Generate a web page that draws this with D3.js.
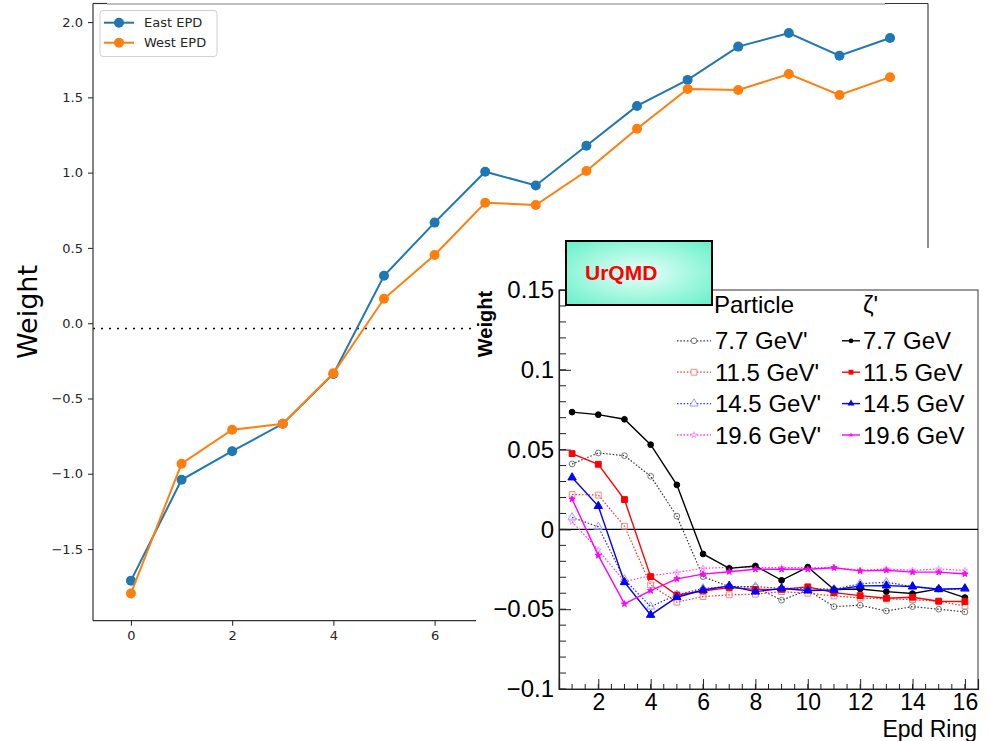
<!DOCTYPE html>
<html><head><meta charset="utf-8">
<script src="https://cdn.jsdelivr.net/npm/d3@7"></script>
<style>body{margin:0;background:#fff}svg{display:block}</style>
</head><body>
<svg id="c" width="990" height="741"></svg>
<script>
// ---------- main chart data ----------
const ringIndex = [0,1,2,3,4,5,6,7,8,9,10,11,12,13,14,15];
const eastEPD = [-1.71,-1.04,-0.85,-0.668,-0.337,0.315,0.668,1.006,0.915,1.178,1.443,1.616,1.837,1.927,1.777,1.894];
const westEPD = [-1.795,-0.933,-0.708,-0.668,-0.333,0.162,0.453,0.800,0.785,1.011,1.291,1.556,1.549,1.655,1.516,1.634];
const mainSeriesNames = ["East EPD","West EPD"];
const mainYTicks = [-1.5,-1.0,-0.5,0.0,0.5,1.0,1.5,2.0];
const mainXTicks = [0,2,4,6,8,10,12,14];
const refLevel = -0.035;

// ---------- inset data ----------
const epdRing = [1,2,3,4,5,6,7,8,9,10,11,12,13,14,15,16];
const part77  = [0.041,0.0479,0.0462,0.0333,0.0083,-0.0296,-0.0359,-0.036,-0.0444,-0.038,-0.0484,-0.0475,-0.0511,-0.0484,-0.050,-0.0517];
const zeta77  = [0.0735,0.0719,0.069,0.0531,0.0279,-0.0154,-0.0244,-0.0229,-0.0319,-0.0236,-0.0377,-0.0373,-0.039,-0.0402,-0.0373,-0.0427];
const part115 = [0.0219,0.0215,0.002,-0.0348,-0.0456,-0.0421,-0.041,-0.0406,-0.039,-0.040,-0.0417,-0.043,-0.0435,-0.044,-0.045,-0.048];
const zeta115 = [0.0475,0.0408,0.0187,-0.0296,-0.0411,-0.0386,-0.0365,-0.0376,-0.0376,-0.036,-0.0396,-0.0415,-0.0431,-0.0425,-0.045,-0.0452];
const part145 = [0.0075,0.0016,-0.0313,-0.0484,-0.041,-0.037,-0.0358,-0.0358,-0.037,-0.037,-0.0375,-0.034,-0.0331,-0.0358,-0.0375,-0.0373];
const zeta145 = [0.0325,0.0146,-0.0331,-0.0536,-0.0425,-0.038,-0.0354,-0.039,-0.037,-0.0383,-0.038,-0.0354,-0.0352,-0.0358,-0.0375,-0.037];
const part196 = [0.0048,-0.0129,-0.0327,-0.029,-0.0269,-0.0244,-0.0238,-0.0238,-0.024,-0.024,-0.024,-0.0256,-0.0248,-0.0256,-0.0248,-0.0258];
const zeta196 = [0.019,-0.0163,-0.0467,-0.0384,-0.031,-0.028,-0.0265,-0.025,-0.025,-0.025,-0.024,-0.026,-0.0256,-0.0268,-0.0268,-0.0279];
const particleLabels = ["7.7 GeV'","11.5 GeV'","14.5 GeV'","19.6 GeV'"];
const zetaLabels = ["7.7 GeV","11.5 GeV","14.5 GeV","19.6 GeV"];
const insetYTicks = [-0.1,-0.05,0,0.05,0.1,0.15];
const insetYTickLabels = ["\u22120.1","\u22120.05","0","0.05","0.1","0.15"];
const insetXTicks = [2,4,6,8,10,12,14,16];
const insetXTickLabels = ["2","4","6","8","10","12","14","16"];

const svg = d3.select("#c");

// ================= MAIN CHART =================
const mx = d3.scaleLinear().domain([-0.75,15.75]).range([93,928]);
const my = d3.scaleLinear().domain([-1.976,2.12]).range([620.7,4]);
const mainFont = "'DejaVu Sans', sans-serif";
const mainColors = ["#1f77b4","#ff7f0e"];

const main = svg.append("g");
main.append("line")
  .attr("x1",mx(-0.75)).attr("x2",mx(15.75))
  .attr("y1",my(refLevel)).attr("y2",my(refLevel))
  .attr("stroke","#000").attr("stroke-width",1.6).attr("stroke-dasharray","2,6");

const line = d3.line().x((d,i)=>mx(ringIndex[i])).y(d=>my(d));
[eastEPD,westEPD].forEach((vals,k)=>{
  main.append("path").attr("d",line(vals)).attr("fill","none")
    .attr("stroke",mainColors[k]).attr("stroke-width",2);
  main.selectAll(null).data(vals).enter().append("circle")
    .attr("cx",(d,i)=>mx(ringIndex[i])).attr("cy",d=>my(d)).attr("r",5)
    .attr("fill",mainColors[k]);
});

const yAx = main.append("g").attr("transform","translate(93,0)")
  .call(d3.axisLeft(my).tickValues(mainYTicks).tickFormat(d3.format(".1f")).tickSize(5).tickPadding(5));
const xAx = main.append("g").attr("transform","translate(0,620.7)")
  .call(d3.axisBottom(mx).tickValues(mainXTicks).tickFormat(d3.format("d")).tickSize(5).tickPadding(5));
[yAx,xAx].forEach(a=>{
  a.select(".domain").remove();
  a.selectAll("line").attr("stroke","#333").attr("stroke-width",1.1);
  a.selectAll("text").attr("font-family",mainFont).attr("font-size",13).attr("fill","#262626");
});
main.append("line").attr("x1",93).attr("x2",93).attr("y1",3.5).attr("y2",620.7).attr("stroke","#333").attr("stroke-width",1.2);
main.append("line").attr("x1",93).attr("x2",928).attr("y1",620.7).attr("y2",620.7).attr("stroke","#333").attr("stroke-width",1.2);
main.append("line").attr("x1",928).attr("x2",928).attr("y1",3.5).attr("y2",620.7).attr("stroke","#444").attr("stroke-width",1.2);
main.append("line").attr("x1",107).attr("x2",885).attr("y1",4).attr("y2",4).attr("stroke","#aaa").attr("stroke-width",1.5);
main.append("line").attr("x1",93).attr("x2",107).attr("y1",3.5).attr("y2",3.5).attr("stroke","#333").attr("stroke-width",1.2);
main.append("line").attr("x1",885).attr("x2",928).attr("y1",3.5).attr("y2",3.5).attr("stroke","#333").attr("stroke-width",1.2);

main.append("text").attr("transform","translate(37,312) rotate(-90)")
  .attr("text-anchor","middle").attr("font-family",mainFont).attr("font-size",27).attr("fill","#000").text("Weight");

const lg = main.append("g");
lg.append("rect").attr("x",100).attr("y",10.5).attr("width",117).attr("height",46).attr("rx",3)
  .attr("fill","#fff").attr("fill-opacity",0.8).attr("stroke","#d0d0d0");
mainSeriesNames.forEach((n,k)=>{
  const yy = 22.7 + k*20;
  lg.append("line").attr("x1",104).attr("x2",134).attr("y1",yy).attr("y2",yy).attr("stroke",mainColors[k]).attr("stroke-width",2);
  lg.append("circle").attr("cx",119).attr("cy",yy).attr("r",5).attr("fill",mainColors[k]);
  lg.append("text").attr("x",144).attr("y",yy+4.5).attr("font-family",mainFont).attr("font-size",13).attr("fill","#262626").text(n);
});

// ================= INSET =================
svg.append("rect").attr("x",476).attr("y",248).attr("width",514).attr("height",493).attr("fill","#fff");
const ix = d3.scaleLinear().domain([0.5,16.5]).range([559,978]);
const iy = d3.scaleLinear().domain([-0.1,0.15]).range([689,290]);
const rootFont = "'Liberation Sans', Arial, Helvetica, sans-serif";
const ins = svg.append("g");

ins.append("rect").attr("x",559).attr("y",290).attr("width",419).attr("height",399)
  .attr("fill","none").attr("stroke","#555").attr("stroke-width",1.2);
ins.append("line").attr("x1",559).attr("x2",978).attr("y1",iy(0)).attr("y2",iy(0)).attr("stroke","#000").attr("stroke-width",1.2);

const yMinor = iy.ticks(25);
const xMinor = d3.range(1,33).map(d=>d*0.5+0.5).filter(d=>d<16.5);
ins.append("g").selectAll("line").data(yMinor).enter().append("line")
  .attr("x1",559).attr("x2",566).attr("y1",d=>iy(d)).attr("y2",d=>iy(d)).attr("stroke","#222").attr("stroke-width",1);
ins.append("g").selectAll("line").data(xMinor).enter().append("line")
  .attr("x1",d=>ix(d)).attr("x2",d=>ix(d)).attr("y1",689).attr("y2",684).attr("stroke","#222").attr("stroke-width",1);

const iyAx = ins.append("g").attr("transform","translate(559,0)")
  .call(d3.axisLeft(iy).tickValues(insetYTicks).tickFormat((d,i)=>insetYTickLabels[i]).tickSize(-12).tickPadding(5));
const ixAx = ins.append("g").attr("transform","translate(0,689)")
  .call(d3.axisBottom(ix).tickValues(insetXTicks).tickFormat((d,i)=>insetXTickLabels[i]).tickSize(-10).tickPadding(5));
[iyAx,ixAx].forEach(a=>{
  a.select(".domain").attr("stroke","#222").attr("stroke-width",1.2);
  a.selectAll(".tick line").attr("stroke","#222").attr("stroke-width",1);
  a.selectAll("text").attr("font-family",rootFont).attr("font-size",24).attr("fill","#000");
});
ixAx.selectAll("text").attr("font-size",23);

ins.append("text").attr("transform","translate(492,324) rotate(-90)").attr("text-anchor","middle")
  .attr("font-family",rootFont).attr("font-size",20).attr("font-weight","bold").attr("fill","#000").text("Weight");
ins.append("text").attr("x",977).attr("y",737).attr("text-anchor","end")
  .attr("font-family",rootFont).attr("font-size",23).attr("fill","#000").text("Epd Ring");

const styles = [
  {sym:d3.symbolCircle, size:26, line:"#000", mark:"#000", pline:"#333", pmark:"#777"},
  {sym:d3.symbolSquare, size:34, line:"#ff0000", mark:"#ff0000", pline:"#ff2a2a", pmark:"#f08a8a"},
  {sym:d3.symbolTriangle, size:30, line:"#0000ff", mark:"#0000ff", pline:"#2a2aff", pmark:"#9a9aff"},
  {sym:d3.symbolStar, size:12, line:"#ff00ff", mark:"#ff00ff", pline:"#ff33ff", pmark:"#ff9cff"}
];
const particleSeries = [part77,part115,part145,part196];
const zetaSeries = [zeta77,zeta115,zeta145,zeta196];
const iline = d3.line().x((d,i)=>ix(epdRing[i])).y(d=>iy(d));

function drawSeries(vals, st, dotted){
  ins.append("path").attr("d",iline(vals)).attr("fill","none")
    .attr("stroke",dotted?st.pline:st.line).attr("stroke-width",dotted?1.2:1.4)
    .attr("stroke-dasharray",dotted?"1.5,1.8":null);
  ins.append("g").selectAll("path").data(vals).enter().append("path")
    .attr("transform",(d,i)=>`translate(${ix(epdRing[i])},${iy(d)})`)
    .attr("d",d3.symbol().type(st.sym).size(st.size)())
    .attr("fill",dotted?"none":st.mark).attr("stroke",dotted?st.pmark:st.mark).attr("stroke-width",1);
}
particleSeries.forEach((v,k)=>drawSeries(v,styles[k],true));
zetaSeries.forEach((v,k)=>drawSeries(v,styles[k],false));

ins.append("text").attr("x",714).attr("y",313).attr("font-family",rootFont).attr("font-size",24).text("Particle");
ins.append("text").attr("x",863).attr("y",313).attr("font-family",rootFont).attr("font-size",24).text("\u03b6'");
styles.forEach((st,k)=>{
  const base = 349.3 + k*31.4;
  const cy = base - 8.5;
  ins.append("line").attr("x1",677).attr("x2",711).attr("y1",cy).attr("y2",cy)
    .attr("stroke",st.pline).attr("stroke-width",1.3).attr("stroke-dasharray","1.5,1.8");
  ins.append("path").attr("transform",`translate(694,${cy})`).attr("d",d3.symbol().type(st.sym).size(st.size)())
    .attr("fill","#fff").attr("stroke",st.pmark).attr("stroke-width",1);
  ins.append("text").attr("x",715).attr("y",base).attr("font-family",rootFont).attr("font-size",24).text(particleLabels[k]);
  ins.append("line").attr("x1",842).attr("x2",860).attr("y1",cy).attr("y2",cy)
    .attr("stroke",st.line).attr("stroke-width",1.4);
  ins.append("path").attr("transform",`translate(851,${cy})`).attr("d",d3.symbol().type(st.sym).size(st.size*0.7)())
    .attr("fill",st.mark);
  ins.append("text").attr("x",863).attr("y",base).attr("font-family",rootFont).attr("font-size",24).text(zetaLabels[k]);
});

const defs = svg.append("defs");
const grad = defs.append("radialGradient").attr("id","urg").attr("cx","50%").attr("cy","50%").attr("r","65%");
grad.append("stop").attr("offset","0%").attr("stop-color","#eafff8");
grad.append("stop").attr("offset","100%").attr("stop-color","#6ef2cc");
svg.append("rect").attr("x",566).attr("y",241).attr("width",146).attr("height",64)
  .attr("fill","url(#urg)").attr("stroke","#000").attr("stroke-width",2);
svg.append("text").attr("x",585).attr("y",280).attr("font-family",rootFont).attr("font-size",21)
  .attr("font-weight","bold").attr("fill","#ff0000").text("UrQMD");
</script>
</body></html>
